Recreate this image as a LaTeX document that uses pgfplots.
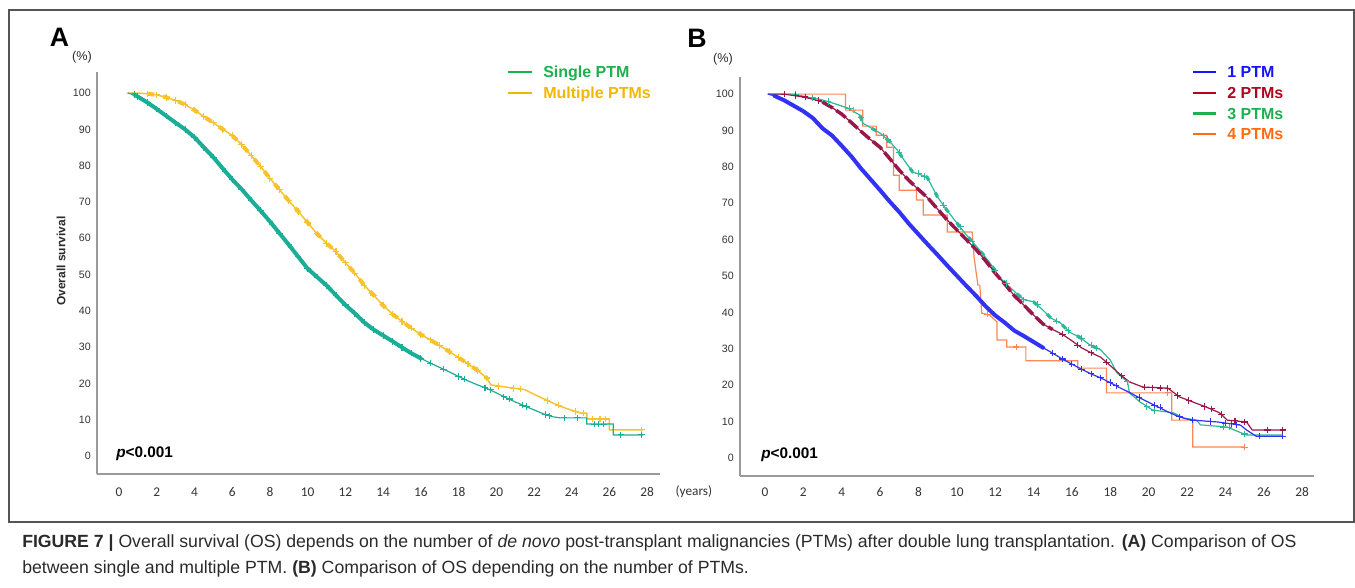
\documentclass[border=0pt]{standalone}
\usepackage{fontspec}
\setmainfont{Liberation Sans}
\newfontfamily\cali{Carlito}
\usepackage{pgfplots}
\usepackage{pgfplotstable}
\pgfplotsset{compat=1.18}

\definecolor{frameGray}{HTML}{555555}
\definecolor{axGray}{HTML}{9A9A9A}
\definecolor{tickInk}{HTML}{333333}
\definecolor{capInk}{HTML}{2A2A2A}
\definecolor{tealA}{HTML}{1BAE97}
\definecolor{goldA}{HTML}{F8C22C}
\definecolor{legGreen}{HTML}{1DB04E}
\definecolor{legGold}{HTML}{F2B705}
\definecolor{blueB}{HTML}{3232F5}
\definecolor{maroonB}{HTML}{9A1749}
\definecolor{tealB}{HTML}{2DB79B}
\definecolor{orangeB}{HTML}{FA8755}
\definecolor{legBlue}{HTML}{1414FF}
\definecolor{legRed}{HTML}{B1061F}
\definecolor{legOrange}{HTML}{FF6B10}

\pgfplotsset{
  kmaxis/.style={
    scale only axis,
    axis lines=left,
    axis line style={-, axGray, line width=1pt},
    xtick={0,2,...,28},
    ytick={0,10,...,100},
    major tick length=0pt,
    tick style={draw=none},
    tick label style={color=tickInk},
    /pgf/number format/assume math mode=true,
    yticklabel style={font=\fontsize{8}{9}\selectfont, anchor=east, inner sep=0pt, xshift=-4.5pt},
    clip=false,
  },
  kmline/.style={line width=0.9pt, mark=none},
  kmband/.style={line width=3pt, line cap=round, mark=none},
  kmclus/.style={line width=3pt, line cap=butt, mark=none, dash pattern=on 5pt off 7pt},
  kmcens/.style={only marks, mark=+, mark size=2.4pt, mark options={line width=0.8pt}},
}

% panel A: single vs multiple PTMs (years, %)
\pgfplotstableread{
x y
0.45 100
0.8 99.6
1.0 99.0
1.5 97.4
2.0 95.6
2.5 93.7
3.0 91.8
3.5 90.0
4.0 87.8
4.5 85.0
5.0 82.3
5.5 79.2
6.0 76.2
6.5 73.5
7.0 70.5
7.5 67.6
8.0 64.6
8.5 61.4
9.0 58.2
9.5 54.9
10.0 51.6
10.5 49.3
11.0 47.0
11.5 44.3
12.0 41.6
12.5 39.3
13.0 36.8
13.5 34.8
14.0 33.2
14.5 31.6
15.0 29.9
15.5 28.3
16.0 26.9
16.5 25.6
17.0 24.4
17.5 23.2
18.0 21.9
18.5 20.7
19.0 19.6
19.5 18.6
20.0 17.4
20.5 16.1
21.0 14.9
21.5 13.8
22.0 12.7
22.5 11.6
23.0 10.8
23.4 10.5
24.8 10.5
24.8 8.8
26.2 8.8
26.2 5.8
27.8 5.8
}\tabSingle

\pgfplotstableread{
x y
16.5 25.6
17.2 23.9
18.0 21.9
18.3 21.2
19.4 18.8
19.7 18.2
20.4 16.3
20.7 15.7
21.4 14.0
21.6 13.6
22.6 11.4
22.8 11.1
23.6 10.5
24.3 10.5
25.2 8.8
25.4 8.8
25.7 8.8
26.6 5.8
27.7 5.8
}\censSingle

\pgfplotstableread{
x y
0.45 100
1.0 100
1.5 99.8
2.0 99.5
2.5 98.8
3.0 98.0
3.5 96.8
4.0 95.3
4.5 93.5
5.0 91.8
5.5 90.0
6.0 88.3
6.5 85.8
7.0 82.8
7.5 79.8
8.0 76.5
8.5 73.4
9.0 70.3
9.5 67.4
10.0 64.3
10.5 61.2
11.0 58.6
11.5 56.3
12.0 53.2
12.5 50.4
13.0 47.0
13.5 44.3
14.0 41.5
14.5 39.1
15.0 37.1
15.5 35.2
16.0 33.5
16.5 32.0
17.0 30.4
17.5 28.8
18.0 27.1
18.5 25.4
19.0 23.6
19.5 21.5
19.7 19.6
20.5 19.0
21.5 18.3
22.0 17.0
22.5 15.8
23.0 14.6
23.5 13.5
24.0 12.6
24.5 11.8
24.8 11.8
24.8 10.2
26.0 10.2
26.0 7.2
27.8 7.2
}\tabMulti

\pgfplotstableread{
x y
20.1 19.2
20.9 18.6
21.3 18.4
22.7 15.3
23.3 14.0
24.2 12.3
24.6 11.8
25.1 10.2
25.5 10.2
25.8 10.2
27.7 7.2
}\censMulti

% panel B: 1, 2, 3, 4 PTMs (years, %)
\pgfplotstableread{
x y
0.15 100
0.5 99.5
1.0 98.3
1.5 96.8
2.0 95.3
2.5 93.4
3.0 90.6
3.5 88.6
4.0 85.8
4.5 82.9
5.0 79.6
5.5 76.6
6.0 73.6
6.5 70.5
7.0 67.6
7.5 64.4
8.0 61.5
8.5 58.6
9.0 55.8
9.5 52.9
10.0 50.1
10.5 47.3
11.0 44.6
11.5 41.7
12.0 39.2
12.5 37.2
13.0 35.0
13.5 33.5
14.0 31.9
14.5 30.3
15.0 28.8
15.5 27.2
16.0 25.8
16.5 24.4
17.0 23.1
17.5 22.0
18.0 20.7
18.5 19.3
19.0 18.0
19.5 16.6
20.0 15.3
20.5 14.0
21.0 12.7
21.5 11.5
22.0 10.7
22.3 10.4
23.6 9.9
24.4 9.3
24.8 9.0
25.1 7.7
25.6 6.0
27.0 6.0
}\tabOne

\pgfplotstableread{
x y
15.0 28.8
15.5 27.2
16.0 25.8
16.5 24.4
17.0 23.1
17.5 22.0
18.0 20.7
18.3 19.8
19.5 16.6
20.3 14.5
20.6 14.0
21.6 11.3
22.3 10.4
23.2 10.0
24.0 9.6
24.3 9.4
24.6 9.1
25.8 6.0
27.0 6.0
}\censOne

\pgfplotstableread{
x y
0.15 100
1.0 100
1.5 99.6
2.0 99.2
2.5 98.6
3.0 97.8
3.5 96.3
4.0 94.5
4.5 92.2
5.0 89.8
5.5 87.5
6.0 85.4
6.5 82.3
7.0 79.1
7.5 76.3
8.0 73.8
8.5 71.4
9.0 68.4
9.5 65.4
10.0 62.7
10.5 60.0
11.0 57.3
11.5 54.2
12.0 50.8
12.5 47.8
13.0 44.6
13.5 42.0
14.0 39.3
14.5 36.8
15.0 35.3
15.5 34.0
16.0 32.2
16.5 30.3
17.0 28.9
17.5 27.7
18.0 25.4
18.5 23.0
19.0 20.9
19.7 19.5
21.0 19.2
21.6 16.8
22.3 15.4
23.0 14.0
23.7 12.4
24.1 10.4
25.1 9.9
25.4 7.7
27.0 7.7
}\tabTwo

\pgfplotstableread{
x y
1.0 100
1.6 99.6
2.1 99.2
2.8 98.2
15.5 34.0
16.3 31.0
17.0 28.9
17.8 26.3
18.6 22.6
19.8 19.5
20.2 19.3
20.6 19.2
21.0 19.2
21.5 17.2
22.1 15.8
22.9 14.2
23.3 13.5
23.8 12.0
24.5 10.2
25.0 9.9
26.2 7.7
27.0 7.7
}\censTwo

\pgfplotstableread{
x y
0.15 100
1.5 100
2.2 99.2
3.0 98.4
3.5 97.6
4.3 96.2
4.95 94.2
5.1 92.0
6.0 89.3
6.5 87.0
6.9 84.6
7.3 81.5
7.7 78.6
8.45 77.2
9.0 71.7
9.5 68.0
10.0 64.6
10.5 61.3
11.05 58.0
11.7 53.8
12.25 49.5
13.1 45.3
13.5 43.5
14.0 42.9
14.5 40.6
14.9 38.5
15.4 37.1
15.9 34.5
16.4 33.2
16.9 31.2
17.5 29.7
18.0 26.9
18.35 23.4
18.9 20.9
19.0 17.9
19.55 15.4
20.2 13.2
21.3 12.4
21.8 11.0
22.5 10.4
22.7 9.1
24.1 8.5
25.1 6.3
27.0 6.3
}\tabThree

\pgfplotstableread{
x y
1.6 100
2.5 99.0
3.3 98.0
4.4 96.1
5.0 93.5
6.2 88.5
6.4 87.5
7.0 84.0
8.0 78.2
8.3 77.4
9.3 69.5
10.2 63.5
10.8 59.4
12.0 51.4
12.6 48.0
13.5 43.5
14.2 42.2
15.2 37.6
15.8 35.0
16.5 32.8
17.0 31.0
17.3 30.2
18.9 20.9
19.9 14.2
20.3 13.0
23.9 8.5
24.2 8.5
25.0 6.6
}\censThree

\pgfplotstableread{
x y
0.15 100
4.2 100
4.2 95.6
5.1 95.6
5.1 91.2
5.8 91.2
5.8 88.7
6.35 88.7
6.35 85.4
6.7 85.4
6.7 77.7
7.0 77.7
7.0 73.6
7.9 73.6
7.9 70.9
8.25 70.9
8.25 66.8
9.5 66.8
9.5 62.1
10.8 62.1
10.9 55.2
11.1 47.5
11.2 47.5
11.3 39.8
11.7 39.3
12.1 37.4
12.1 32.4
12.6 32.4
12.6 30.5
13.6 30.5
13.6 26.7
16.3 26.7
16.3 24.7
17.8 24.7
17.8 17.9
21.2 17.9
21.2 10.4
22.3 10.4
22.3 3.0
25.0 3.0
}\tabFour

\pgfplotstableread{
x y
4.6 95.6
11.6 39.5
13.1 30.5
21.0 17.9
25.0 3.0
}\censFour

\begin{document}
\begin{tikzpicture}
\path[use as bounding box] (0,0) rectangle (1016.25pt,-441pt);
\draw[frameGray, line width=0.9pt] (6.75pt,-7.5pt) rectangle (1015.5pt,-391.5pt);

% ---------- panel A ----------
\begin{axis}[kmaxis,
  at={(72.75pt,-355.5pt)}, anchor=south west,
  width=422.25pt, height=301.5pt,
  xmin=-1.17, xmax=28.68, ymin=-4.96, ymax=105.8,
  xticklabel style={font=\cali\fontsize{10}{11}\selectfont, anchor=center, inner sep=0pt, yshift=-13.5pt},
]
\addplot[goldA, kmline, line width=1.1pt] table {\tabMulti};
\addplot[goldA, kmclus, restrict x to domain=1.3:19.6] table {\tabMulti};
\addplot[goldA, kmcens, restrict x to domain=1.2:19.6] table {\tabMulti};
\addplot[goldA, kmcens] table {\censMulti};
\addplot[tealA, kmline] table {\tabSingle};
\addplot[tealA, kmband, restrict x to domain=0.7:16.2] table {\tabSingle};
\addplot[tealA, kmcens, restrict x to domain=0.7:16.2] table {\tabSingle};
\addplot[tealA, kmcens] table {\censSingle};
\end{axis}

% ---------- panel B ----------
\begin{axis}[kmaxis,
  at={(555pt,-357pt)}, anchor=south west,
  width=430.5pt, height=299.25pt,
  xmin=-1.30, xmax=28.62, ymin=-4.95, ymax=104.7,
  xticklabel style={font=\cali\fontsize{10}{11}\selectfont, anchor=center, inner sep=0pt, yshift=-12pt},
]
\addplot[orangeB, kmline] table {\tabFour};
\addplot[orangeB, kmcens] table {\censFour};
\addplot[tealB, kmline] table {\tabThree};
\addplot[tealB, kmclus, line width=2.4pt, dash pattern=on 4pt off 10pt, restrict x to domain=4.5:17.5] table {\tabThree};
\addplot[tealB, kmcens] table {\censThree};
\addplot[maroonB, kmline] table {\tabTwo};
\addplot[maroonB, kmclus, line width=2.6pt, dash pattern=on 9pt off 3pt, restrict x to domain=3.0:15.2] table {\tabTwo};
\addplot[maroonB, kmcens] table {\censTwo};
\addplot[blueB, kmline] table {\tabOne};
\addplot[blueB, kmband, restrict x to domain=0.5:14.6] table {\tabOne};
\addplot[blueB, kmcens] table {\censOne};
\end{axis}

% panel letters, units, axis title
\node[font=\bfseries\fontsize{20}{22}\selectfont] at (44.6pt,-28.1pt) {A};
\node[font=\bfseries\fontsize{20}{22}\selectfont] at (522.75pt,-28.5pt) {B};
\node[font=\fontsize{9.5}{11}\selectfont, text=capInk] at (61.5pt,-42.75pt) {(\%)};
\node[font=\fontsize{9.5}{11}\selectfont, text=capInk] at (542.25pt,-44.25pt) {(\%)};
\node[rotate=90, font=\bfseries\fontsize{9}{10}\selectfont, text=capInk] at (45.75pt,-195.75pt) {Overall survival};
\node[anchor=west, inner sep=0pt, font=\cali\fontsize{10}{11}\selectfont, text=tickInk] at (506.5pt,-369pt) {(years)};

% p values
\node[anchor=base west, inner sep=0pt, font=\bfseries\fontsize{11.5}{13}\selectfont] at (87pt,-343.1pt) {\textit{p}<0.001};
\node[anchor=base west, inner sep=0pt, font=\bfseries\fontsize{11.5}{13}\selectfont] at (570.75pt,-343.85pt) {\textit{p}<0.001};

% legend A
\draw[legGreen, line width=1.8pt] (381pt,-54pt) -- (399pt,-54pt);
\draw[legGold, line width=1.8pt] (381pt,-69.75pt) -- (399pt,-69.75pt);
\node[anchor=base west, inner sep=0pt, font=\bfseries\fontsize{12}{14}\selectfont, text=legGreen] at (407.25pt,-58.3pt) {Single PTM};
\node[anchor=base west, inner sep=0pt, font=\bfseries\fontsize{12}{14}\selectfont, text=legGold] at (407.25pt,-74.05pt) {Multiple PTMs};

% legend B
\draw[legBlue, line width=1.8pt] (894.75pt,-54pt) -- (912pt,-54pt);
\draw[legRed, line width=1.8pt] (894.75pt,-69.75pt) -- (912pt,-69.75pt);
\draw[legGreen, line width=1.8pt] (894.75pt,-85.1pt) -- (912pt,-85.1pt);
\draw[legOrange, line width=1.8pt] (894.75pt,-100.5pt) -- (912pt,-100.5pt);
\node[anchor=base west, inner sep=0pt, font=\bfseries\fontsize{12}{14}\selectfont, text=legBlue] at (920.25pt,-58.3pt) {1 PTM};
\node[anchor=base west, inner sep=0pt, font=\bfseries\fontsize{12}{14}\selectfont, text=legRed] at (920.25pt,-74.05pt) {2 PTMs};
\node[anchor=base west, inner sep=0pt, font=\bfseries\fontsize{12}{14}\selectfont, text=legGreen] at (920.25pt,-89.4pt) {3 PTMs};
\node[anchor=base west, inner sep=0pt, font=\bfseries\fontsize{12}{14}\selectfont, text=legOrange] at (920.25pt,-104.8pt) {4 PTMs};

% caption
\node[anchor=base west, inner sep=0pt, font=\fontsize{13.25}{15}\selectfont, text=capInk] at (16.5pt,-410.35pt)
  {{\bfseries FIGURE 7 |} Overall survival (OS) depends on the number of \textit{de novo} post-transplant malignancies (PTMs) after double lung transplantation. {\bfseries (A)} Comparison of OS};
\node[anchor=base west, inner sep=0pt, font=\fontsize{13.25}{15}\selectfont, text=capInk] at (16.5pt,-429.85pt)
  {between single and multiple PTM. {\bfseries (B)} Comparison of OS depending on the number of PTMs.};
\end{tikzpicture}
\end{document}
